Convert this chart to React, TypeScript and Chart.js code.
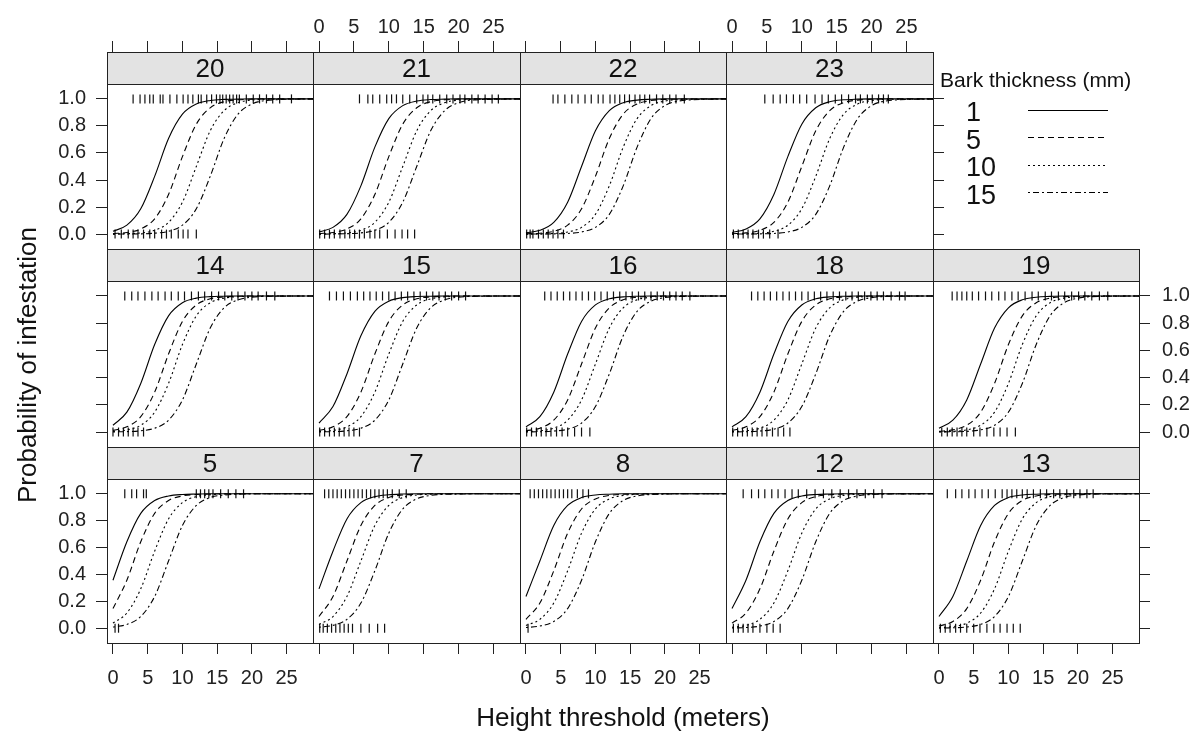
import { useEffect, useRef } from "react";
import { Chart, registerables } from "chart.js";

Chart.register(...registerables);

const FONT = "'Liberation Sans', Arial, Helvetica, sans-serif";
const INK = "#222222";
const STRIP_FILL = "#e3e3e3";

// Heights (m) at which the fitted probabilities are tabulated
const HEIGHTS = [0, 2, 4, 6, 8, 10, 12, 14, 16, 18, 20, 22, 28.8];
const BARK_THICKNESS = ["1", "5", "10", "15"];
const X_TICKS = [0, 5, 10, 15, 20, 25];
const Y_TICKS = [0, 0.2, 0.4, 0.6, 0.8, 1];

// Fitted probability of infestation per site, one row per bark thickness (1, 5, 10, 15 mm)
const site20Fit = [
  [0.021, 0.066, 0.187, 0.427, 0.707, 0.887, 0.962, 0.988, 0.996, 0.998, 1, 1, 1],
  [0.004, 0.012, 0.038, 0.113, 0.293, 0.573, 0.813, 0.934, 0.979, 0.993, 0.998, 1, 1],
  [0.001, 0.003, 0.009, 0.028, 0.087, 0.236, 0.5, 0.764, 0.913, 0.972, 0.991, 0.997, 1],
  [0, 0.001, 0.002, 0.007, 0.021, 0.066, 0.187, 0.427, 0.707, 0.887, 0.962, 0.988, 1],
];
const site21Fit = [
  [0.016, 0.05, 0.146, 0.357, 0.643, 0.854, 0.95, 0.984, 0.995, 0.998, 1, 1, 1],
  [0.004, 0.012, 0.038, 0.113, 0.293, 0.573, 0.813, 0.934, 0.979, 0.993, 0.998, 1, 1],
  [0.001, 0.003, 0.009, 0.028, 0.087, 0.236, 0.5, 0.764, 0.913, 0.972, 0.991, 0.997, 1],
  [0, 0.001, 0.003, 0.009, 0.028, 0.087, 0.236, 0.5, 0.764, 0.913, 0.972, 0.991, 1],
];
const site22Fit = [
  [0.009, 0.028, 0.087, 0.236, 0.5, 0.764, 0.913, 0.972, 0.991, 0.997, 1, 1, 1],
  [0.002, 0.007, 0.021, 0.066, 0.187, 0.427, 0.707, 0.887, 0.962, 0.988, 0.996, 0.998, 1],
  [0.001, 0.002, 0.005, 0.016, 0.05, 0.146, 0.357, 0.643, 0.854, 0.95, 0.984, 0.995, 1],
  [0, 0.001, 0.002, 0.005, 0.016, 0.05, 0.146, 0.357, 0.643, 0.854, 0.95, 0.984, 1],
];
const site23Fit = [
  [0.012, 0.038, 0.113, 0.293, 0.573, 0.813, 0.934, 0.979, 0.993, 0.998, 1, 1, 1],
  [0.003, 0.009, 0.028, 0.087, 0.236, 0.5, 0.764, 0.913, 0.972, 0.991, 0.997, 1, 1],
  [0.001, 0.002, 0.007, 0.021, 0.066, 0.187, 0.427, 0.707, 0.887, 0.962, 0.988, 0.996, 1],
  [0, 0.001, 0.002, 0.005, 0.016, 0.05, 0.146, 0.357, 0.643, 0.854, 0.95, 0.984, 1],
];
const site14Fit = [
  [0.05, 0.146, 0.357, 0.643, 0.854, 0.95, 0.984, 0.995, 0.998, 1, 1, 1, 1],
  [0.012, 0.038, 0.113, 0.293, 0.573, 0.813, 0.934, 0.979, 0.993, 0.998, 1, 1, 1],
  [0.005, 0.016, 0.05, 0.146, 0.357, 0.643, 0.854, 0.95, 0.984, 0.995, 0.998, 1, 1],
  [0.001, 0.003, 0.009, 0.028, 0.087, 0.236, 0.5, 0.764, 0.913, 0.972, 0.991, 0.997, 1],
];
const site15Fit = [
  [0.066, 0.187, 0.427, 0.707, 0.887, 0.962, 0.988, 0.996, 0.998, 1, 1, 1, 1],
  [0.012, 0.038, 0.113, 0.293, 0.573, 0.813, 0.934, 0.979, 0.993, 0.998, 1, 1, 1],
  [0.004, 0.012, 0.038, 0.113, 0.293, 0.573, 0.813, 0.934, 0.979, 0.993, 0.998, 1, 1],
  [0.001, 0.003, 0.009, 0.028, 0.087, 0.236, 0.5, 0.764, 0.913, 0.972, 0.991, 0.997, 1],
];
const site16Fit = [
  [0.038, 0.113, 0.293, 0.573, 0.813, 0.934, 0.979, 0.993, 0.998, 1, 1, 1, 1],
  [0.009, 0.028, 0.087, 0.236, 0.5, 0.764, 0.913, 0.972, 0.991, 0.997, 1, 1, 1],
  [0.003, 0.009, 0.028, 0.087, 0.236, 0.5, 0.764, 0.913, 0.972, 0.991, 0.997, 1, 1],
  [0.001, 0.002, 0.007, 0.021, 0.066, 0.187, 0.427, 0.707, 0.887, 0.962, 0.988, 0.996, 1],
];
const site18Fit = [
  [0.038, 0.113, 0.293, 0.573, 0.813, 0.934, 0.979, 0.993, 0.998, 1, 1, 1, 1],
  [0.012, 0.038, 0.113, 0.293, 0.573, 0.813, 0.934, 0.979, 0.993, 0.998, 1, 1, 1],
  [0.003, 0.009, 0.028, 0.087, 0.236, 0.5, 0.764, 0.913, 0.972, 0.991, 0.997, 1, 1],
  [0.001, 0.002, 0.007, 0.021, 0.066, 0.187, 0.427, 0.707, 0.887, 0.962, 0.988, 0.996, 1],
];
const site19Fit = [
  [0.028, 0.087, 0.236, 0.5, 0.764, 0.913, 0.972, 0.991, 0.997, 1, 1, 1, 1],
  [0.005, 0.016, 0.05, 0.146, 0.357, 0.643, 0.854, 0.95, 0.984, 0.995, 0.998, 1, 1],
  [0.002, 0.005, 0.016, 0.05, 0.146, 0.357, 0.643, 0.854, 0.95, 0.984, 0.995, 0.998, 1],
  [0.001, 0.002, 0.005, 0.016, 0.05, 0.146, 0.357, 0.643, 0.854, 0.95, 0.984, 0.995, 1],
];
const site5Fit = [
  [0.357, 0.643, 0.854, 0.95, 0.984, 0.995, 0.998, 1, 1, 1, 1, 1, 1],
  [0.146, 0.357, 0.643, 0.854, 0.95, 0.984, 0.995, 0.998, 1, 1, 1, 1, 1],
  [0.038, 0.113, 0.293, 0.573, 0.813, 0.934, 0.979, 0.993, 0.998, 1, 1, 1, 1],
  [0.009, 0.028, 0.087, 0.236, 0.5, 0.764, 0.913, 0.972, 0.991, 0.997, 1, 1, 1],
];
const site7Fit = [
  [0.293, 0.573, 0.813, 0.934, 0.979, 0.993, 0.998, 1, 1, 1, 1, 1, 1],
  [0.087, 0.236, 0.5, 0.764, 0.913, 0.972, 0.991, 0.997, 1, 1, 1, 1, 1],
  [0.028, 0.087, 0.236, 0.5, 0.764, 0.913, 0.972, 0.991, 0.997, 1, 1, 1, 1],
  [0.007, 0.021, 0.066, 0.187, 0.427, 0.707, 0.887, 0.962, 0.988, 0.996, 0.998, 1, 1],
];
const site8Fit = [
  [0.236, 0.5, 0.764, 0.913, 0.972, 0.991, 0.997, 1, 1, 1, 1, 1, 1],
  [0.066, 0.187, 0.427, 0.707, 0.887, 0.962, 0.988, 0.996, 0.998, 1, 1, 1, 1],
  [0.021, 0.066, 0.187, 0.427, 0.707, 0.887, 0.962, 0.988, 0.996, 0.998, 1, 1, 1],
  [0.005, 0.016, 0.05, 0.146, 0.357, 0.643, 0.854, 0.95, 0.984, 0.995, 0.998, 1, 1],
];
const site12Fit = [
  [0.146, 0.357, 0.643, 0.854, 0.95, 0.984, 0.995, 0.998, 1, 1, 1, 1, 1],
  [0.038, 0.113, 0.293, 0.573, 0.813, 0.934, 0.979, 0.993, 0.998, 1, 1, 1, 1],
  [0.007, 0.021, 0.066, 0.187, 0.427, 0.707, 0.887, 0.962, 0.988, 0.996, 0.998, 1, 1],
  [0.002, 0.005, 0.016, 0.05, 0.146, 0.357, 0.643, 0.854, 0.95, 0.984, 0.995, 0.998, 1],
];
const site13Fit = [
  [0.087, 0.236, 0.5, 0.764, 0.913, 0.972, 0.991, 0.997, 1, 1, 1, 1, 1],
  [0.016, 0.05, 0.146, 0.357, 0.643, 0.854, 0.95, 0.984, 0.995, 0.998, 1, 1, 1],
  [0.004, 0.012, 0.038, 0.113, 0.293, 0.573, 0.813, 0.934, 0.979, 0.993, 0.998, 1, 1],
  [0.001, 0.003, 0.009, 0.028, 0.087, 0.236, 0.5, 0.764, 0.913, 0.972, 0.991, 0.997, 1],
];

// Observed trees: heights (m) of infested (1) and non-infested (0) trees per site
const site20Infested = [2.9, 3.9, 4.6, 5.3, 5.8, 6.8, 7.2, 8.2, 9.2, 10.1, 10.8, 11.5, 12.3, 12.7, 13.5, 14.2, 14.9, 15.4, 15.8, 16.3, 16.8, 17.3, 17.8, 18.2, 19.2, 20.2, 21.1, 22.1, 23.0, 24.0, 25.7];
const site20Healthy = [0.3, 1.2, 2.2, 2.9, 3.6, 4.4, 5.3, 6.0, 7.0, 7.7, 8.4, 9.4, 10.1, 10.8, 12.0];
const site21Infested = [5.8, 7.0, 7.7, 8.7, 9.7, 10.4, 11.1, 12.0, 13.0, 14.0, 14.9, 15.6, 16.3, 17.3, 18.3, 19.2, 20.2, 20.9, 21.9, 22.8, 23.8, 24.8, 25.7];
const site21Healthy = [0.1, 0.8, 1.5, 2.2, 3.0, 3.7, 4.4, 5.1, 5.8, 6.5, 7.3, 8.0, 8.7, 9.8, 10.9, 11.9, 12.7, 13.7];
const site22Infested = [3.9, 4.6, 5.6, 6.6, 7.5, 8.5, 9.4, 10.4, 11.1, 12.1, 12.8, 13.5, 14.2, 14.9, 15.7, 16.4, 17.1, 17.8, 18.8, 19.7, 20.7, 21.6, 22.8];
const site22Healthy = [0.1, 0.6, 1.0, 1.8, 2.5, 3.2, 3.9, 4.6, 5.4];
const site23Infested = [4.7, 5.9, 6.9, 7.8, 8.8, 9.7, 10.7, 11.9, 12.9, 13.8, 14.8, 15.7, 16.7, 17.7, 18.4, 19.4, 20.1, 21.0, 21.7, 22.4];
const site23Healthy = [0.2, 0.9, 1.6, 2.3, 3.0, 3.8, 4.5, 5.4, 6.6];
const site14Infested = [1.7, 2.7, 3.6, 4.6, 5.6, 6.5, 7.5, 8.4, 9.4, 10.3, 11.3, 12.3, 13.2, 14.2, 15.2, 16.1, 17.1, 18.0, 19.0, 20.0, 20.9, 22.1, 23.3];
const site14Healthy = [0.0, 0.8, 1.5, 2.2, 2.9, 3.6, 4.4];
const site15Infested = [1.5, 2.5, 3.5, 4.5, 5.5, 6.4, 7.3, 8.2, 9.1, 10.0, 10.9, 11.8, 12.7, 13.6, 14.5, 15.4, 16.3, 17.2, 18.1, 19.0, 20.0, 21.0];
const site15Healthy = [0.1, 0.8, 1.5, 2.2, 2.9, 3.6, 4.3, 5.0, 5.8];
const site16Infested = [2.7, 3.6, 4.5, 5.4, 6.3, 7.2, 8.1, 9.0, 9.9, 10.8, 11.7, 12.6, 13.5, 14.4, 15.3, 16.2, 17.1, 18.0, 18.9, 19.8, 20.7, 21.6, 22.5, 23.6];
const site16Healthy = [0.1, 0.8, 1.5, 2.2, 2.9, 3.6, 4.4, 5.2, 6.0, 7.0, 8.0, 9.2];
const site18Infested = [2.8, 3.7, 4.6, 5.5, 6.4, 7.3, 8.2, 9.1, 10.0, 10.9, 11.8, 12.7, 13.6, 14.5, 15.4, 16.3, 17.2, 18.1, 19.0, 19.9, 20.8, 21.7, 22.8, 24.0, 24.8];
const site18Healthy = [0.1, 0.8, 1.5, 2.2, 2.9, 3.6, 4.3, 5.0, 5.8, 6.6, 7.4, 8.3];
const site19Infested = [1.9, 2.6, 3.3, 4.0, 4.8, 5.7, 6.7, 7.6, 8.6, 9.5, 10.5, 11.4, 12.4, 13.4, 14.3, 15.3, 16.2, 17.2, 18.1, 19.1, 20.1, 21.0, 22.0, 23.1, 24.3];
const site19Healthy = [0.4, 1.2, 1.9, 2.6, 3.3, 4.0, 5.0, 5.9, 6.9, 7.9, 8.8, 9.8, 11.0];
const site5Infested = [1.7, 2.7, 3.4, 4.4, 4.8, 12.0, 12.6, 13.2, 13.8, 14.4, 15.5, 16.6, 17.7, 18.8];
const site5Healthy = [0.3, 0.8];
const site7Infested = [0.8, 1.4, 2.0, 2.6, 3.2, 3.8, 4.4, 5.0, 5.6, 6.2, 6.8, 7.4, 8.0, 8.6, 9.2, 9.8, 10.5, 11.5, 12.5];
const site7Healthy = [0.1, 0.6, 1.2, 1.8, 2.4, 3.0, 3.6, 4.2, 4.8, 6.0, 7.2, 8.4, 9.4];
const site8Infested = [0.6, 1.2, 1.8, 2.4, 3.0, 3.6, 4.2, 4.8, 5.4, 6.0, 6.6, 7.4, 8.2, 9.0];
const site8Healthy = [0.3];
const site12Infested = [1.6, 2.8, 3.8, 4.7, 5.7, 6.6, 7.6, 8.6, 9.5, 10.7, 11.9, 13.1, 14.3, 15.5, 16.7, 17.9, 19.1, 20.3, 21.5];
const site12Healthy = [0.2, 0.9, 1.6, 2.3, 3.0, 4.0, 5.0, 5.9, 6.9];
const site13Infested = [1.2, 2.4, 3.3, 4.3, 5.2, 6.2, 7.1, 8.1, 9.1, 9.8, 10.5, 11.2, 12.0, 12.7, 13.6, 14.6, 15.5, 16.5, 17.4, 18.4, 19.4, 20.3, 21.3, 22.2];
const site13Healthy = [0.2, 0.9, 1.6, 2.4, 3.1, 4.0, 5.0, 5.9, 6.9, 7.9, 8.8, 9.8, 10.7, 11.7];

// Lattice layout (page pixels): panel column and row boundaries
const COL_EDGES = [107, 313, 520, 726, 933, 1139];
const ROW_EDGES = [52, 249, 447, 643];
const STRIP_H = 32;
const PAD_X = 70;
const PAD_Y = 50;
const X_MIN = -0.86;
const X_MAX = 28.8;
const Y_LO = -0.11;
const Y_HI = 1.11;
const TICK_LEN = 11;

const DASHES = [[], [6, 4], [2, 3], [2, 3, 6, 3]];

type PanelSpec = {
  site: string;
  row: number;
  col: number;
  fit: number[][];
  infested: number[];
  healthy: number[];
};

const PANELS: PanelSpec[] = [
  { site: "20", row: 0, col: 0, fit: site20Fit, infested: site20Infested, healthy: site20Healthy },
  { site: "21", row: 0, col: 1, fit: site21Fit, infested: site21Infested, healthy: site21Healthy },
  { site: "22", row: 0, col: 2, fit: site22Fit, infested: site22Infested, healthy: site22Healthy },
  { site: "23", row: 0, col: 3, fit: site23Fit, infested: site23Infested, healthy: site23Healthy },
  { site: "14", row: 1, col: 0, fit: site14Fit, infested: site14Infested, healthy: site14Healthy },
  { site: "15", row: 1, col: 1, fit: site15Fit, infested: site15Infested, healthy: site15Healthy },
  { site: "16", row: 1, col: 2, fit: site16Fit, infested: site16Infested, healthy: site16Healthy },
  { site: "18", row: 1, col: 3, fit: site18Fit, infested: site18Infested, healthy: site18Healthy },
  { site: "19", row: 1, col: 4, fit: site19Fit, infested: site19Infested, healthy: site19Healthy },
  { site: "5", row: 2, col: 0, fit: site5Fit, infested: site5Infested, healthy: site5Healthy },
  { site: "7", row: 2, col: 1, fit: site7Fit, infested: site7Infested, healthy: site7Healthy },
  { site: "8", row: 2, col: 2, fit: site8Fit, infested: site8Infested, healthy: site8Healthy },
  { site: "12", row: 2, col: 3, fit: site12Fit, infested: site12Infested, healthy: site12Healthy },
  { site: "13", row: 2, col: 4, fit: site13Fit, infested: site13Infested, healthy: site13Healthy },
];

// Draws the grey strip with the site number above each panel
const stripPlugin = {
  id: "strip",
  beforeDraw(chart: any, _args: any, opts: any) {
    const { ctx, chartArea: a } = chart;
    const yb = Math.round(chart.scales.y.getPixelForValue(Y_HI));
    ctx.save();
    ctx.fillStyle = STRIP_FILL;
    ctx.fillRect(a.left, a.top, a.right - a.left, yb - a.top);
    ctx.strokeStyle = INK;
    ctx.lineWidth = 1;
    ctx.beginPath();
    ctx.moveTo(a.left, yb + 0.5);
    ctx.lineTo(a.right, yb + 0.5);
    ctx.stroke();
    ctx.fillStyle = "#111";
    ctx.font = `26px ${FONT}`;
    ctx.textAlign = "center";
    ctx.textBaseline = "middle";
    ctx.fillText(opts.label, (a.left + a.right) / 2, (a.top + yb) / 2 + 2);
    ctx.restore();
  },
};

function makeAxis(
  kind: "x" | "y",
  position: string,
  showTicks: boolean,
  showLabels: boolean,
  min: number,
  max: number,
  padding: number
) {
  return {
    type: "linear",
    position,
    min,
    max,
    display: true,
    afterBuildTicks: (a: any) => {
      a.ticks = (kind === "x" ? X_TICKS : Y_TICKS).map((value) => ({ value }));
    },
    afterFit: (a: any) => {
      if (kind === "x") a.height = PAD_Y;
      else a.width = PAD_X;
    },
    grid: {
      display: showTicks,
      drawOnChartArea: false,
      drawTicks: true,
      tickLength: TICK_LEN,
      color: INK,
      lineWidth: 1,
    },
    border: { display: true, color: INK, width: 1 },
    ticks: {
      display: showLabels,
      autoSkip: false,
      maxRotation: 0,
      minRotation: 0,
      padding,
      color: "#222",
      font: { family: FONT, size: 20 },
      callback: (v: any) => (kind === "x" ? String(v) : Number(v).toFixed(1)),
    },
  };
}

function Panel({ p }: { p: PanelSpec }) {
  const ref = useRef<HTMLCanvasElement | null>(null);
  const left = COL_EDGES[p.col];
  const right = COL_EDGES[p.col + 1];
  const top = ROW_EDGES[p.row];
  const bottom = ROW_EDGES[p.row + 1];
  const w = right - left + 2 * PAD_X;
  const h = bottom - top + 2 * PAD_Y;

  useEffect(() => {
    if (!ref.current) return;
    const lastCol = p.row === 0 ? 3 : 4;
    const plotH = bottom - top - STRIP_H;
    const yTop = Y_HI + (STRIP_H * (Y_HI - Y_LO)) / plotH;

    const curves = p.fit.map((vals, i) => ({
      type: "line",
      label: BARK_THICKNESS[i],
      data: HEIGHTS.map((x, j) => ({ x, y: vals[j] })),
      borderColor: "#000",
      borderWidth: 1.1,
      borderDash: DASHES[i],
      pointRadius: 0,
      cubicInterpolationMode: "monotone",
      fill: false,
    }));
    const rug = (xs: number[], outcome: number) => ({
      type: "line",
      label: outcome ? "infested" : "not infested",
      data: xs.map((x) => ({ x, y: outcome })),
      showLine: false,
      pointStyle: "line",
      rotation: 90,
      pointRadius: 4.5,
      pointBorderWidth: 1.2,
      borderWidth: 1.2,
      borderColor: "#111",
      pointBorderColor: "#111",
    });

    const chart = new Chart(ref.current, {
      type: "line",
      data: {
        datasets: [...curves, rug(p.infested, 1), rug(p.healthy, 0)] as any,
      },
      options: {
        responsive: false,
        maintainAspectRatio: false,
        devicePixelRatio: 1,
        animation: false,
        events: [],
        layout: { padding: 0 },
        plugins: {
          legend: { display: false },
          tooltip: { enabled: false },
          strip: { label: p.site },
        } as any,
        scales: {
          x: makeAxis("x", "bottom", p.row === 2, p.row === 2 && p.col % 2 === 0, X_MIN, X_MAX, 12),
          x2: makeAxis("x", "top", p.row === 0, p.row === 0 && p.col % 2 === 1, X_MIN, X_MAX, 2),
          y: makeAxis("y", "left", p.col === 0, p.col === 0 && p.row % 2 === 0, Y_LO, yTop, 10),
          y2: makeAxis("y", "right", p.col === lastCol, p.col === lastCol && p.row === 1, Y_LO, yTop, 12),
        } as any,
      },
      plugins: [stripPlugin],
    } as any);
    return () => chart.destroy();
  }, []);

  return (
    <canvas
      ref={ref}
      width={w}
      height={h}
      style={{ position: "absolute", left: left - PAD_X, top: top - PAD_Y, width: w, height: h }}
    />
  );
}

const LEGEND_CENTERS = [112, 139.5, 167, 194.5];

export default function App() {
  return (
    <div
      style={{
        position: "fixed",
        left: 0,
        top: 0,
        width: 1194,
        height: 733,
        background: "#fff",
        overflow: "hidden",
        fontFamily: FONT,
        color: "#111",
      }}
    >
      {PANELS.map((p) => (
        <Panel key={p.site} p={p} />
      ))}

      <div
        style={{
          position: "absolute",
          left: 940,
          top: 68,
          fontSize: 21,
          lineHeight: "24px",
          whiteSpace: "nowrap",
        }}
      >
        Bark thickness (mm)
      </div>
      {BARK_THICKNESS.map((b, i) => (
        <div
          key={b}
          style={{
            position: "absolute",
            left: 966,
            top: LEGEND_CENTERS[i] - 14.6,
            fontSize: 27,
            lineHeight: "30px",
            whiteSpace: "nowrap",
          }}
        >
          {b}
        </div>
      ))}
      <svg
        width={1194}
        height={733}
        style={{ position: "absolute", left: 0, top: 0, pointerEvents: "none" }}
      >
        {BARK_THICKNESS.map((b, i) => (
          <line
            key={b}
            x1={1028}
            x2={1108}
            y1={Math.round(LEGEND_CENTERS[i] - 2.5) + 0.5}
            y2={Math.round(LEGEND_CENTERS[i] - 2.5) + 0.5}
            stroke="#000"
            strokeWidth={1.1}
            strokeDasharray={DASHES[i].length ? DASHES[i].join(" ") : undefined}
          />
        ))}
      </svg>

      <div
        style={{
          position: "absolute",
          left: 323,
          width: 600,
          top: 702,
          textAlign: "center",
          fontSize: 26,
          lineHeight: "30px",
          whiteSpace: "nowrap",
        }}
      >
        Height threshold (meters)
      </div>
      <div
        style={{
          position: "absolute",
          left: 27 - 200,
          top: 365 - 15,
          width: 400,
          height: 30,
          textAlign: "center",
          fontSize: 26,
          lineHeight: "30px",
          whiteSpace: "nowrap",
          transform: "rotate(-90deg)",
        }}
      >
        Probability of infestation
      </div>
    </div>
  );
}
